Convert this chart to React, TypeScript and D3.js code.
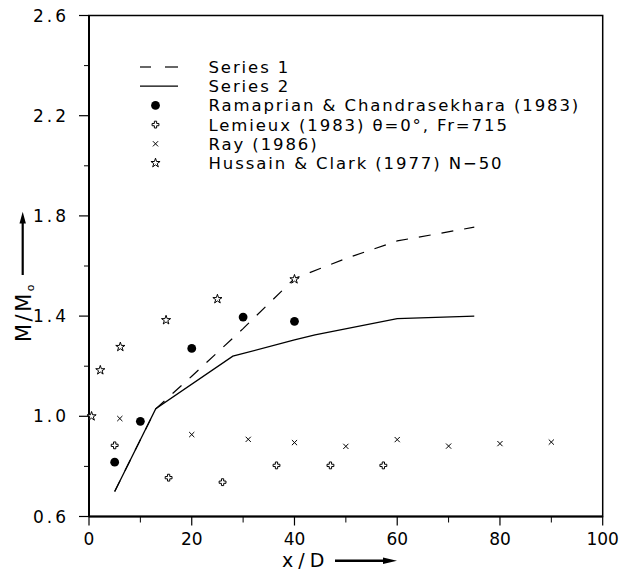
import React from "react";
import * as d3 from "d3";

// ---- data ----
const series1X = [5, 13, 20, 30, 40, 45, 50, 60, 75];
const series1Y = [0.70, 1.03, 1.16, 1.35, 1.55, 1.59, 1.63, 1.70, 1.755];
const series2X = [5, 13, 28, 40, 44, 60, 75];
const series2Y = [0.70, 1.03, 1.24, 1.305, 1.325, 1.39, 1.40];
const ramaX = [5, 10, 20, 30, 40];
const ramaY = [0.817, 0.98, 1.271, 1.396, 1.379];
const lemX = [5, 15.5, 26, 36.5, 47, 57.3];
const lemY = [0.884, 0.755, 0.737, 0.804, 0.804, 0.804];
const rayX = [6, 20, 31, 40, 50, 60, 70, 80, 90];
const rayY = [0.991, 0.927, 0.908, 0.895, 0.88, 0.907, 0.881, 0.891, 0.897];
const husX = [0.5, 2.2, 6.1, 15, 25, 40];
const husY = [1.0, 1.184, 1.277, 1.384, 1.468, 1.547];

const xMajor = [0, 20, 40, 60, 80, 100];
const xMinor = [10, 30, 50, 70, 90];
const yMajor = [0.6, 1.0, 1.4, 1.8, 2.2, 2.6];
const yMinor = [0.8, 1.2, 1.6, 2.0, 2.4];

const legendLabels = [
  "Series 1",
  "Series 2",
  "Ramaprian & Chandrasekhara (1983)",
  "Lemieux (1983) \u03b8=0\u00b0, Fr=715",
  "Ray (1986)",
  "Hussain & Clark (1977) N\u221250",
];

const FONT = "'DejaVu Sans', sans-serif";

function Marker({ kind, cx, cy }: { kind: string; cx: number; cy: number }) {
  if (kind === "rama") return <circle cx={cx} cy={cy} r={4.4} fill="#000" />;
  if (kind === "lem") {
    const p = d3.symbol(d3.symbolCross, 26)() as string;
    return (
      <path d={p} transform={`translate(${cx},${cy})`} fill="#fff" stroke="#000" strokeWidth={1} strokeLinejoin="round" />
    );
  }
  if (kind === "ray") {
    const s = 2.6;
    return (
      <path d={`M${cx - s},${cy - s}L${cx + s},${cy + s}M${cx - s},${cy + s}L${cx + s},${cy - s}`} stroke="#000" strokeWidth={1} />
    );
  }
  const p = d3.symbol(d3.symbolStar, 26)() as string;
  return <path d={p} transform={`translate(${cx},${cy})`} fill="#fff" stroke="#000" strokeWidth={1} strokeLinejoin="miter" />;
}

export default function App() {
  const W = 621, H = 571;
  const x = d3.scaleLinear().domain([0, 100]).range([89, 602.7]);
  const y = d3.scaleLinear().domain([0.6, 2.6]).range([516.5, 15.5]);
  const line = d3.line<[number, number]>().x((d) => x(d[0])).y((d) => y(d[1]));
  const s1 = series1X.map((v, i) => [v, series1Y[i]] as [number, number]);
  const s2 = series2X.map((v, i) => [v, series2Y[i]] as [number, number]);

  const left = x(0), right = x(100), top = y(2.6), bottom = y(0.6);

  const legX0 = 140, legX1 = 178, legMk = 155.5, legText = 208.5;
  const legY0 = 67, legDy = 19.2;

  const scatter = [
    { kind: "rama", xs: ramaX, ys: ramaY },
    { kind: "lem", xs: lemX, ys: lemY },
    { kind: "ray", xs: rayX, ys: rayY },
    { kind: "star", xs: husX, ys: husY },
  ];

  return (
    <svg width={W} height={H} style={{ position: "absolute", left: 0, top: 0, background: "#fff" }}>
      <rect x={0} y={0} width={W} height={H} fill="#fff" />
      {/* frame */}
      <rect x={left} y={top} width={right - left} height={bottom - top} fill="none" stroke="#000" strokeWidth={1.5} />
      <line x1={left} x2={left} y1={top} y2={bottom} stroke="#000" strokeWidth={2} />
      <line x1={left} x2={right} y1={bottom} y2={bottom} stroke="#000" strokeWidth={2} />
      {/* y ticks */}
      {yMajor.map((v) => (
        <g key={"ym" + v}>
          <line x1={left - 10} x2={left} y1={y(v)} y2={y(v)} stroke="#000" strokeWidth={1.2} />
          <text x={66} y={y(v) + 6} textAnchor="end" fontFamily={FONT} fontSize={17} fill="#000">
            {v.toFixed(1).split(".")[0]}
            <tspan dx={3}>.</tspan>
            <tspan dx={3}>{v.toFixed(1).split(".")[1]}</tspan>
          </text>
        </g>
      ))}
      {yMinor.map((v) => (
        <line key={"yn" + v} x1={left - 5} x2={left} y1={y(v)} y2={y(v)} stroke="#000" strokeWidth={1} />
      ))}
      {/* x ticks */}
      {xMajor.map((v) => (
        <g key={"xm" + v}>
          <line x1={x(v)} x2={x(v)} y1={bottom} y2={bottom + 9} stroke="#000" strokeWidth={1.2} />
          <text x={x(v)} y={545} textAnchor="middle" fontFamily={FONT} fontSize={17} fill="#000">
            {v}
          </text>
        </g>
      ))}
      {xMinor.map((v) => (
        <line key={"xn" + v} x1={x(v)} x2={x(v)} y1={bottom} y2={bottom + 6} stroke="#000" strokeWidth={1} />
      ))}

      {/* lines */}
      <path d={line(s2) as string} fill="none" stroke="#000" strokeWidth={1.3} />
      <path d={line(s1) as string} fill="none" stroke="#000" strokeWidth={1.2} strokeDasharray="12,11" />

      {/* scatter */}
      {scatter.map((s) =>
        s.xs.map((v, i) => <Marker key={s.kind + i} kind={s.kind} cx={x(v)} cy={y(s.ys[i])} />)
      )}

      {/* legend */}
      <line x1={legX0} x2={151} y1={legY0} y2={legY0} stroke="#000" strokeWidth={1.2} />
      <line x1={165} x2={legX1} y1={legY0} y2={legY0} stroke="#000" strokeWidth={1.2} />
      <line x1={legX0} x2={legX1} y1={legY0 + legDy} y2={legY0 + legDy} stroke="#000" strokeWidth={1.3} />
      <Marker kind="rama" cx={legMk} cy={legY0 + 2 * legDy} />
      <Marker kind="lem" cx={legMk} cy={legY0 + 3 * legDy} />
      <Marker kind="ray" cx={legMk} cy={legY0 + 4 * legDy} />
      <Marker kind="star" cx={legMk} cy={legY0 + 5 * legDy} />
      {legendLabels.map((t, i) => (
        <text
          key={t}
          x={legText}
          y={legY0 + i * legDy + 6}
          fontFamily={FONT}
          fontSize={16.5}
          letterSpacing={1.9}
          fill="#000"
        >
          {t}
        </text>
      ))}

      {/* y title */}
      <g transform={`translate(31,312) rotate(-90)`}>
        <text x={0} y={0} textAnchor="middle" fontFamily={FONT} fontSize={21} letterSpacing={2.5} fill="#000">
          M/M<tspan fontSize={11} dy={3}>o</tspan>
        </text>
      </g>
      <line x1={22.7} x2={22.7} y1={275} y2={221} stroke="#000" strokeWidth={2.2} />
      <path d="M22.7,211.7 L19.5,223.5 L25.9,223.5 Z" fill="#000" />

      {/* x title */}
      <text x={282} y={567} fontFamily={FONT} fontSize={19} letterSpacing={5} fill="#000">
        x/D
      </text>
      <line x1={335} x2={386} y1={560.7} y2={560.7} stroke="#000" strokeWidth={2.4} />
      <path d="M397,560.7 L383,557.5 L383,563.9 Z" fill="#000" />
    </svg>
  );
}
